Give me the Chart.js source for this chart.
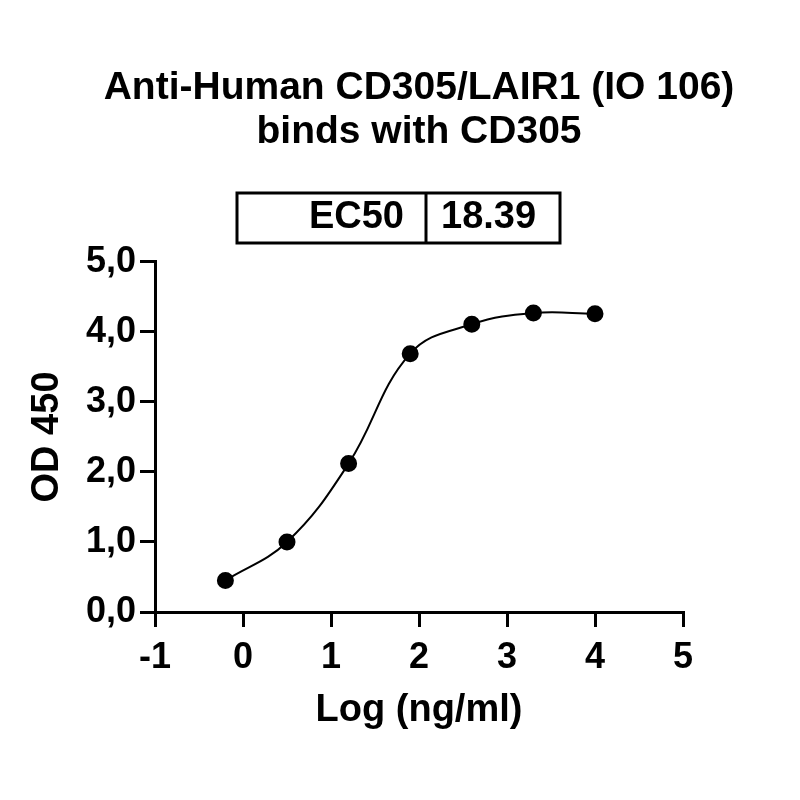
<!DOCTYPE html>
<html>
<head>
<meta charset="utf-8">
<script src="https://cdn.jsdelivr.net/npm/chart.js@4.4.1/dist/chart.umd.min.js"></script>
<style>
  html, body { margin: 0; padding: 0; background: #fff; }
  #wrap { width: 800px; height: 800px; }
</style>
</head>
<body>
<div id="wrap"><canvas id="c" width="800" height="800"></canvas></div>
<script>
// ---- data ----
const titleLines = ["Anti-Human CD305/LAIR1 (IO 106)", "binds with CD305"];
const logConc = [-0.2, 0.5, 1.2, 1.9, 2.6, 3.3, 4.0];
const od450 = [0.45, 1.0, 2.12, 3.69, 4.11, 4.27, 4.26];
const xTickRange = [-1, 5];
const yTickRange = [0, 5];
const ec50Label = "EC50";
const ec50Value = "18.39";
const xAxisTitle = "Log (ng/ml)";
const yAxisTitle = "OD 450";

const FONT = "'Liberation Sans', Arial, Helvetica, sans-serif";

const points = logConc.map((x, i) => ({ x: x, y: od450[i] }));

const ec50Box = {
  id: 'ec50Box',
  afterDraw(chart) {
    const ctx = chart.ctx;
    ctx.save();
    ctx.strokeStyle = '#000';
    ctx.lineWidth = 3;
    ctx.strokeRect(237, 193, 323, 50);
    ctx.beginPath();
    ctx.moveTo(426, 193);
    ctx.lineTo(426, 243);
    ctx.stroke();
    ctx.fillStyle = '#000';
    ctx.font = "bold 38px " + FONT;
    ctx.textBaseline = 'middle';
    ctx.textAlign = 'right';
    ctx.fillText(ec50Label, 404, 218);
    ctx.textAlign = 'left';
    ctx.fillText(ec50Value, 441, 218);
    ctx.restore();
  }
};

new Chart(document.getElementById('c'), {
  type: 'scatter',
  data: {
    datasets: [{
      data: points,
      showLine: true,
      tension: 0.4,
      borderColor: '#000',
      borderWidth: 2,
      backgroundColor: '#000',
      pointBackgroundColor: '#000',
      pointBorderColor: '#000',
      pointRadius: 7.5,
      pointHoverRadius: 7.5
    }]
  },
  options: {
    responsive: false,
    devicePixelRatio: 1,
    animation: false,
    layout: { padding: { left: 38, right: 0, top: 0, bottom: 67 } },
    plugins: {
      legend: { display: false },
      tooltip: { enabled: false },
      title: {
        display: true,
        text: titleLines,
        color: '#000',
        font: { family: FONT, size: 39, weight: 'bold', lineHeight: 1.14 },
        padding: { top: 66, bottom: 107 }
      }
    },
    scales: {
      x: {
        type: 'linear',
        min: xTickRange[0],
        max: xTickRange[1],
        afterFit: s => { s.height = 121; },
        ticks: {
          stepSize: 1,
          color: '#000',
          padding: 9,
          font: { family: FONT, size: 36, weight: 'bold' }
        },
        grid: { display: true, drawOnChartArea: false, drawTicks: true, tickLength: 15, lineWidth: 3, color: '#000' },
        border: { display: true, color: '#000', width: 3 },
        title: {
          display: true,
          text: xAxisTitle,
          color: '#000',
          padding: { top: 0, bottom: 0 },
          font: { family: FONT, size: 38, weight: 'bold', lineHeight: 1.2 }
        }
      },
      y: {
        type: 'linear',
        position: 'left',
        min: yTickRange[0],
        max: yTickRange[1],
        afterFit: s => { s.width = 117; },
        ticks: {
          stepSize: 1,
          color: '#000',
          padding: 4,
          font: { family: FONT, size: 36, weight: 'bold' },
          callback: v => Number(v).toFixed(1).replace('.', ',')
        },
        grid: { display: true, drawOnChartArea: false, drawTicks: true, tickLength: 15, lineWidth: 3, color: '#000' },
        border: { display: true, color: '#000', width: 3 },
        title: {
          display: true,
          text: yAxisTitle,
          color: '#000',
          padding: { top: 0, bottom: 0 },
          font: { family: FONT, size: 38, weight: 'bold', lineHeight: 0.5 }
        }
      },
      yR: {
        type: 'linear',
        position: 'right',
        display: true,
        afterFit: s => { s.width = 117; },
        ticks: { display: false },
        grid: { display: false },
        border: { display: false }
      }
    }
  },
  plugins: [ec50Box]
});
</script>
</body>
</html>
